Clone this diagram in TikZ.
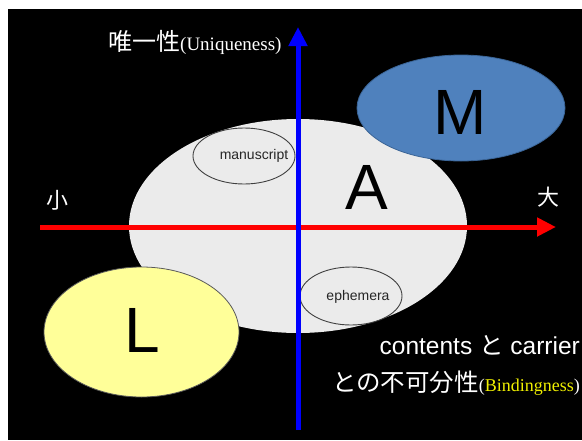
\documentclass[tikz,border=0pt]{standalone}
\usepackage{fontspec}
\setmainfont{Liberation Sans}
\newfontfamily\jp{Noto Sans CJK JP}
\newfontfamily\tms{Liberation Serif}
\usetikzlibrary{shapes.geometric,arrows.meta}
\definecolor{agray}{HTML}{EBEBEB}
\definecolor{mblue}{HTML}{4F81BD}
\definecolor{mline}{HTML}{3A6496}
\definecolor{lyel}{HTML}{FFFF99}
\definecolor{lyeltxt}{HTML}{F0F000}
\begin{document}
\begin{tikzpicture}[x=1pt,y=-1pt,
  oval/.style={ellipse, inner sep=0pt},
  subset/.style={oval, draw=black!75, line width=0.9pt},
  big/.style={font=\fontsize{64}{64}\selectfont, text=black},
  small/.style={font=\fontsize{14}{14}\selectfont, text=black!85},
  wtxt/.style={text=white, inner sep=0pt},
  axis/.style={line width=5pt, -{Triangle[length=19pt,width=18pt]}}]
\useasboundingbox (0,0) rectangle (582,440);
\fill[white] (0,0) rectangle (582,440);
\fill[black] (8,9) rectangle (582,440);
% A
\node[oval, fill=agray, minimum width=338pt, minimum height=214pt] (A) at (298,226) {};
\node[subset, minimum width=102pt, minimum height=56pt] (ms) at (244,156) {};
\node[subset, minimum width=102pt, minimum height=58pt] (ep) at (351,296) {};
\node[small] (mst) at (254,156) {manuscript};
\node[small] (ept) at (358,297) {ephemera};
\node[big] (At) at (367,187) {A};
% M
\node[oval, fill=mblue, draw=mline, line width=0.8pt, minimum width=208pt, minimum height=106pt] (M) at (461,108) {};
\node[big] (Mt) at (460,112) {M};
% L
\node[oval, fill=lyel, draw=black!65, line width=0.8pt, minimum width=195pt, minimum height=130pt] (L) at (141.5,332) {};
\node[big] (Lt) at (142,330) {L};
% axes
\coordinate (xl) at (40,227);
\coordinate (xr) at (556,227);
\coordinate (yb) at (298,430);
\coordinate (yt) at (298,27);
\draw[axis, red] (xl) -- (xr);
\draw[axis, blue] (yb) -- (yt);
% labels
\node[wtxt, anchor=west] (uq) at (108,42) {{\jp\fontsize{24}{24}\selectfont 唯一性}{\tms\fontsize{19}{19}\selectfont (Uniqueness)}};
\node[wtxt] (sm) at (57,200) {\jp\fontsize{22}{22}\selectfont 小};
\node[wtxt] (lg) at (548,197) {\jp\fontsize{22}{22}\selectfont 大};
\node[wtxt, anchor=east] (cc) at (580,345) {\fontsize{24.5}{24.5}\selectfont contents {\jp と} carrier};
\node[wtxt, anchor=east] (bd) at (580,383) {{\jp\fontsize{24.5}{24.5}\selectfont との不可分性}{\tms\fontsize{18}{18}\selectfont (\textcolor{lyeltxt}{Bindingness})}};
\end{tikzpicture}
\end{document}
